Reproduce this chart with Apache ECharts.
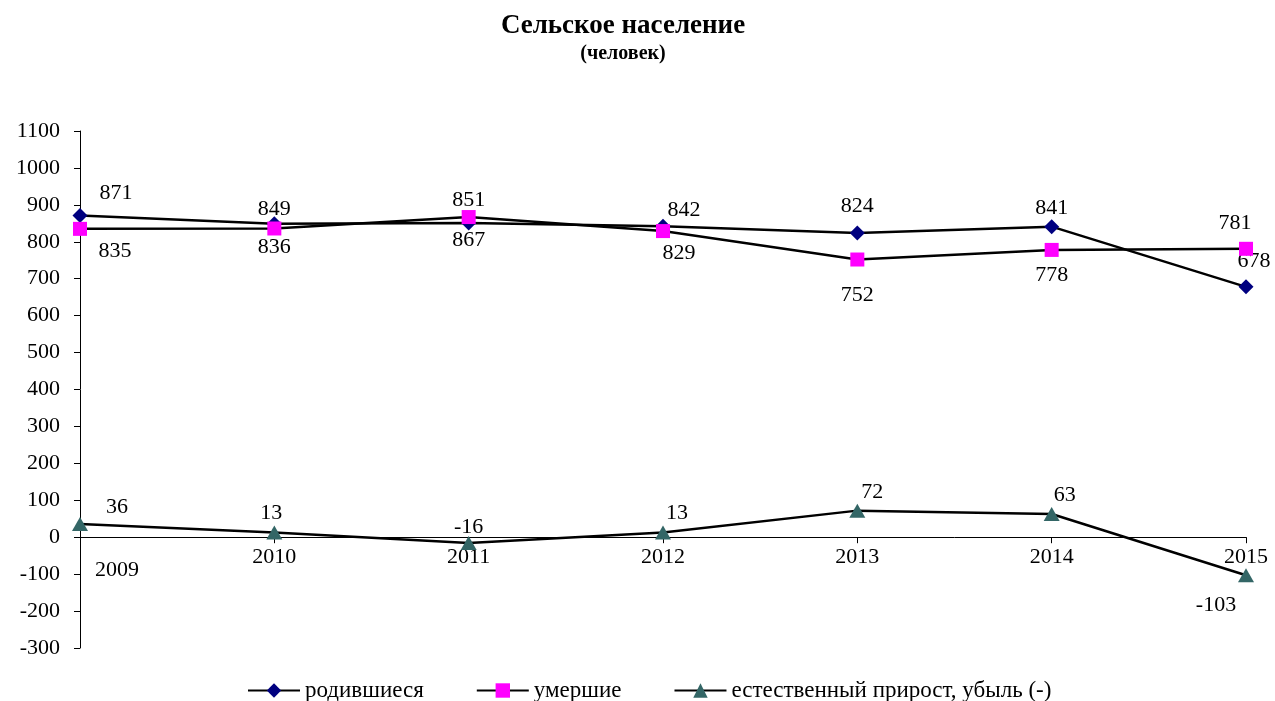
<!DOCTYPE html>
<html><head><meta charset="utf-8">
<script src="https://cdn.jsdelivr.net/npm/echarts@6/dist/echarts.min.js"></script>
<style>html,body{margin:0;padding:0;background:#fff}#c{width:1275px;height:701px}</style>
</head><body><div id="c"></div>
<script>
const years = ['2009','2010','2011','2012','2013','2014','2015'];
const births = [871, 849, 851, 842, 824, 841, 678];
const deaths = [835, 836, 867, 829, 752, 778, 781];
const natural = [36, 13, -16, 13, 72, 63, -103];
const seriesNames = ['родившиеся', 'умершие', 'естественный прирост, убыль (-)'];

const F = '"Liberation Serif","Times New Roman",serif';
// label placement tweaks (position, offset) per point
const birthsLbl = [['top',[36,1]],['top',[0,9]],['top',[0,1]],['top',[21,7]],['top',[0,-3]],['top',[0,5]],['top',[8,-2]]];
const deathsLbl = [['bottom',[35,-1]],['bottom',[0,-4]],['bottom',[0,0]],['bottom',[16,-1]],['bottom',[0,13]],['bottom',[0,2]],['top',[-11,-3]]];
const natLbl = [['top',[37,6]],['top',[-3,4]],['top',[0,7]],['top',[14,4]],['top',[15,5]],['top',[13,4]],['bottom',[-30,7]]];

function build(vals, lbl){
  return vals.map((v,i)=>({value:v,label:{position:lbl[i][0],offset:lbl[i][1]}}));
}
const lab = {show:true,color:'#000',fontFamily:F,fontSize:22,distance:5};

const chart = echarts.init(document.getElementById('c'));
chart.setOption({
  animation:false,
  backgroundColor:'#fff',
  title:{
    text:'Сельское население',
    subtext:'(человек)',
    left:618, textAlign:'center', top:8, itemGap:4,
    textStyle:{fontFamily:F,fontSize:27,fontWeight:'bold',color:'#000'},
    subtextStyle:{fontFamily:F,fontSize:20,fontWeight:'bold',color:'#000'}
  },
  legend:{
    top:674, left:242, itemWidth:52, itemHeight:18, itemGap:52,
    textStyle:{fontFamily:F,fontSize:23,color:'#000'},
    data:seriesNames
  },
  grid:{left:80,right:29,top:131,bottom:53,containLabel:false},
  xAxis:{
    type:'category', data:years, boundaryGap:false,
    axisLine:{onZero:true,lineStyle:{color:'#000',width:1}},
    axisTick:{show:true,alignWithLabel:true,length:6,lineStyle:{color:'#000'}},
    axisLabel:{
      fontFamily:F,fontSize:22,color:'#000',margin:-102,interval:0,
      formatter:(v,i)=> i===0 ? '{a|'+v+'}' : v,
      rich:{a:{fontFamily:F,fontSize:22,color:'#000',padding:[13,0,0,74]}}
    },
    splitLine:{show:false}
  },
  yAxis:{
    type:'value', min:-300, max:1100, interval:100,
    axisLine:{show:true,lineStyle:{color:'#000',width:1}},
    axisTick:{show:true,length:6,lineStyle:{color:'#000'}},
    axisLabel:{fontFamily:F,fontSize:22,color:'#000',margin:20,formatter:v=>String(v)},
    splitLine:{show:false}
  },
  series:[
    {name:seriesNames[0],type:'line',data:build(births,birthsLbl),symbol:'diamond',symbolSize:15,
     lineStyle:{color:'#000',width:2.5},itemStyle:{color:'#000080'},label:lab,z:3},
    {name:seriesNames[1],type:'line',data:build(deaths,deathsLbl),symbol:'rect',symbolSize:14,
     lineStyle:{color:'#000',width:2.5},itemStyle:{color:'#FF00FF'},label:lab,z:4},
    {name:seriesNames[2],type:'line',data:build(natural,natLbl),symbol:'triangle',symbolSize:[16,14],
     lineStyle:{color:'#000',width:2.5},itemStyle:{color:'#336666'},label:lab,z:5}
  ]
});
</script></body></html>
